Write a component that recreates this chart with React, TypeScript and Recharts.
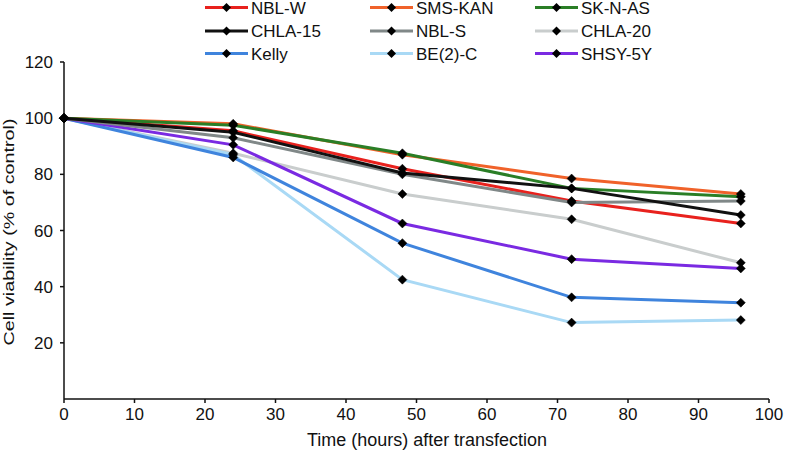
import React from 'react';
import { LineChart, Line, XAxis, YAxis } from 'recharts';

const hours = [0, 24, 48, 72, 96];
const nblW = [100, 95.5, 82, 70.5, 62.5];
const smsKan = [100, 98, 87, 78.5, 73];
const skNAs = [100, 97.5, 87.5, 75, 72];
const chla15 = [100, 95, 80.5, 75, 65.5];
const nblS = [100, 93, 80, 70, 70.5];
const chla20 = [100, 87.5, 73, 64, 48.5];
const kelly = [100, 86, 55.5, 36.2, 34.3];
const be2c = [100, 87, 42.5, 27.2, 28.1];
const shsy5y = [100, 90.5, 62.5, 49.8, 46.5];

const xTicks = [0, 10, 20, 30, 40, 50, 60, 70, 80, 90, 100];
const yTicks = [20, 40, 60, 80, 100, 120];

const seriesDefs = [
  { key: 'NBL-W', values: nblW, color: '#e8211d' },
  { key: 'SMS-KAN', values: smsKan, color: '#f0622a' },
  { key: 'SK-N-AS', values: skNAs, color: '#2a7e26' },
  { key: 'CHLA-15', values: chla15, color: '#111111' },
  { key: 'NBL-S', values: nblS, color: '#808888' },
  { key: 'CHLA-20', values: chla20, color: '#c9cdcd' },
  { key: 'Kelly', values: kelly, color: '#3f84dd' },
  { key: 'BE(2)-C', values: be2c, color: '#a9d9f5' },
  { key: 'SHSY-5Y', values: shsy5y, color: '#7a2ae2' },
];

const drawOrder = ['CHLA-20', 'BE(2)-C', 'Kelly', 'SHSY-5Y', 'NBL-W', 'NBL-S', 'SMS-KAN', 'SK-N-AS', 'CHLA-15'];

const data = hours.map((h, i) => {
  const row: Record<string, number> = { hours: h };
  seriesDefs.forEach((s) => {
    row[s.key] = s.values[i];
  });
  return row;
});

const FONT = '"Liberation Sans", Arial, sans-serif';

const Diamond = (props: any) => {
  const { cx, cy } = props;
  if (cx == null || cy == null) return null;
  const r = 4.5;
  return (
    <polygon
      points={`${cx},${cy - r} ${cx + r},${cy} ${cx},${cy + r} ${cx - r},${cy}`}
      fill="#000"
      stroke="#000"
      strokeWidth={0.5}
    />
  );
};

const LegendBlock = () => {
  const colX = [205, 370, 535];
  const rowY = [7.5, 31, 53.5];
  return (
    <svg width={786} height={66} style={{ position: 'absolute', left: 0, top: 0 }}>
      {seriesDefs.map((s, i) => {
        const col = i % 3;
        const row = Math.floor(i / 3);
        const x = colX[col];
        const y = rowY[row];
        const mid = x + 21.5;
        return (
          <g key={s.key}>
            <line x1={x} y1={y} x2={x + 43} y2={y} stroke={s.color} strokeWidth={3} />
            <polygon
              points={`${mid},${y - 4.5} ${mid + 4.5},${y} ${mid},${y + 4.5} ${mid - 4.5},${y}`}
              fill="#000"
            />
            <text x={x + 46} y={y + 6.1} fontFamily={FONT} fontSize={17} fill="#111">
              {s.key}
            </text>
          </g>
        );
      })}
    </svg>
  );
};

export default function App() {
  return (
    <div style={{ position: 'absolute', left: 0, top: 0, width: 786, height: 452, background: '#fff' }}>
      <LineChart
        width={786}
        height={452}
        data={data}
        margin={{ top: 62, right: 17, bottom: 0, left: 0 }}
      >
        <XAxis
          dataKey="hours"
          type="number"
          domain={[0, 100]}
          ticks={xTicks}
          interval={0}
          height={53}
          stroke="#111"
          tickSize={4}
          tickMargin={5}
          tick={{ fill: '#111', fontSize: 17, fontFamily: FONT }}
          axisLine={{ stroke: '#111', strokeWidth: 1.5 }}
          tickLine={{ stroke: '#111', strokeWidth: 1.5 }}
          label={{
            content: () => (
              <text
                x={427}
                y={446}
                textAnchor="middle"
                fontFamily={FONT}
                fontSize={17.5}
                fill="#111"
                textLength={240}
                lengthAdjust="spacingAndGlyphs"
              >
                Time (hours) after transfection
              </text>
            ),
          }}
        />
        <YAxis
          type="number"
          domain={[0, 120]}
          ticks={yTicks}
          interval={0}
          width={64}
          stroke="#111"
          tickSize={4}
          tickMargin={7}
          tick={{ fill: '#111', fontSize: 17, fontFamily: FONT }}
          axisLine={{ stroke: '#111', strokeWidth: 1.5 }}
          tickLine={{ stroke: '#111', strokeWidth: 1.5 }}
          label={{
            content: () => (
              <text
                x={13.5}
                y={232}
                transform="rotate(-90 13.5 232)"
                textAnchor="middle"
                fontFamily={FONT}
                fontSize={15.5}
                fill="#111"
                textLength={227}
                lengthAdjust="spacingAndGlyphs"
              >
                Cell viability (% of control)
              </text>
            ),
          }}
        />
        {drawOrder.map((k) => {
          const s = seriesDefs.find((d) => d.key === k)!;
          return (
            <Line
              key={s.key}
              type="linear"
              dataKey={s.key}
              stroke={s.color}
              strokeWidth={3}
              dot={<Diamond />}
              activeDot={false}
              isAnimationActive={false}
            />
          );
        })}
      </LineChart>
      <LegendBlock />
    </div>
  );
}
